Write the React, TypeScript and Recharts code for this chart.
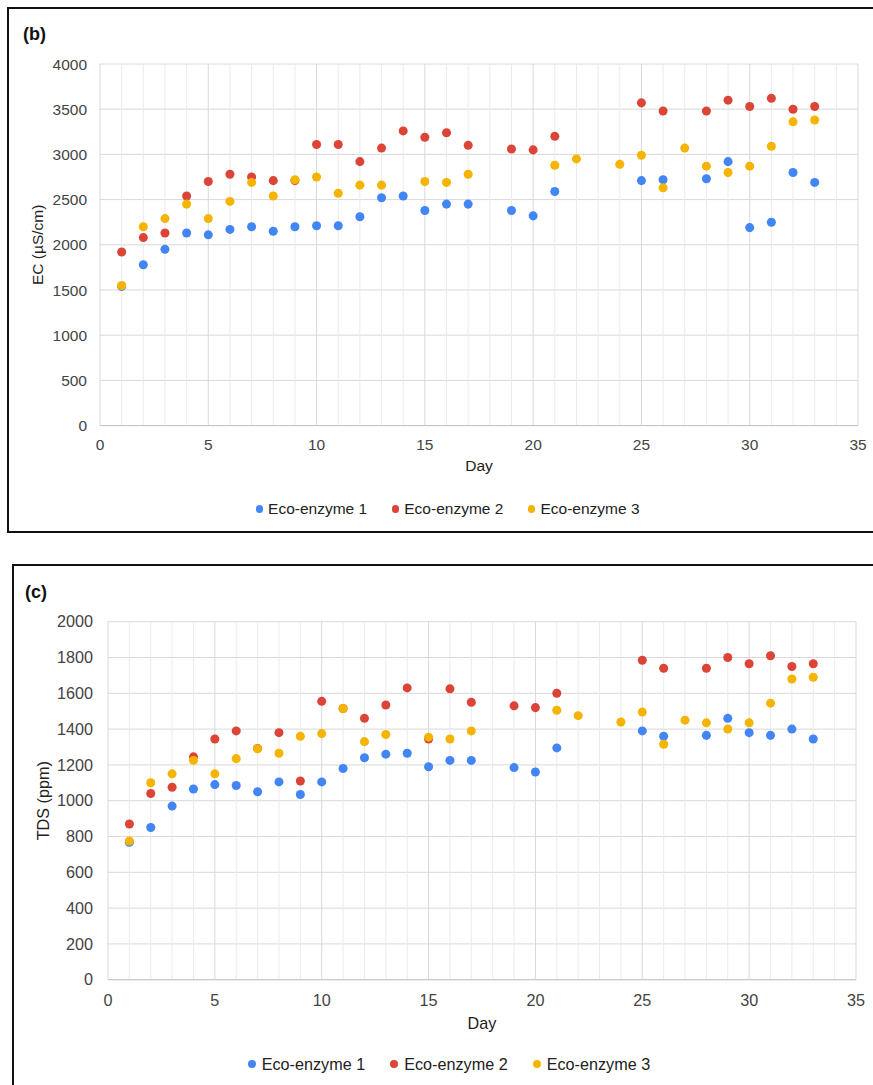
import React from 'react';
import { ScatterChart, Scatter, XAxis, YAxis, CartesianGrid, Legend, ReferenceLine } from 'recharts';

const DAYS = [1, 2, 3, 4, 5, 6, 7, 8, 9, 10, 11, 12, 13, 14, 15, 16, 17, 18, 19, 20, 21, 22, 23, 24, 25, 26, 27, 28, 29, 30, 31, 32, 33];
const SERIES_NAMES = ['Eco-enzyme 1', 'Eco-enzyme 2', 'Eco-enzyme 3'];
const SERIES_COLORS = ['#4285F4', '#DB4437', '#F4B400'];

const EC_1 = [1540, 1780, 1950, 2130, 2110, 2170, 2200, 2150, 2200, 2210, 2210, 2310, 2520, 2540, 2380, 2450, 2450, null, 2380, 2320, 2590, null, null, null, 2710, 2720, null, 2730, 2920, 2190, 2250, 2800, 2690];
const EC_2 = [1920, 2080, 2130, 2540, 2700, 2780, 2750, 2710, 2710, 3110, 3110, 2920, 3070, 3260, 3190, 3240, 3100, null, 3060, 3050, 3200, null, null, null, 3570, 3480, null, 3480, 3600, 3530, 3620, 3500, 3530];
const EC_3 = [1550, 2200, 2290, 2450, 2290, 2480, 2690, 2540, 2720, 2750, 2570, 2660, 2660, null, 2700, 2690, 2780, null, null, null, 2880, 2950, null, 2890, 2990, 2630, 3070, 2870, 2800, 2870, 3090, 3360, 3380];

const TDS_1 = [768, 850, 970, 1065, 1090, 1085, 1050, 1105, 1035, 1105, 1180, 1240, 1260, 1265, 1190, 1225, 1225, null, 1185, 1160, 1295, null, null, null, 1390, 1360, null, 1365, 1460, 1380, 1365, 1400, 1345];
const TDS_2 = [870, 1040, 1075, 1245, 1345, 1390, 1292, 1380, 1110, 1555, 1515, 1460, 1535, 1630, 1345, 1625, 1550, null, 1530, 1520, 1600, null, null, null, 1785, 1740, null, 1740, 1800, 1765, 1810, 1750, 1765];
const TDS_3 = [775, 1100, 1150, 1225, 1150, 1235, 1290, 1265, 1360, 1375, 1515, 1330, 1370, null, 1355, 1345, 1390, null, null, null, 1505, 1475, null, 1440, 1495, 1315, 1450, 1435, 1400, 1435, 1545, 1680, 1690];

const X_TICKS = [0, 5, 10, 15, 20, 25, 30, 35];
const X_MINOR_TICKS = [1, 2, 3, 4, 6, 7, 8, 9, 11, 12, 13, 14, 16, 17, 18, 19, 21, 22, 23, 24, 26, 27, 28, 29, 31, 32, 33, 34];
const EC_TICKS = [0, 500, 1000, 1500, 2000, 2500, 3000, 3500, 4000];
const TDS_TICKS = [0, 200, 400, 600, 800, 1000, 1200, 1400, 1600, 1800, 2000];

function toPoints(values: (number | null)[]) {
  return DAYS.map((d, i) => ({ day: d, value: values[i] })).filter((p) => p.value !== null);
}

type ChartProps = {
  top: number;
  height: number;
  marginTop: number;
  marginRight: number;
  yAxisWidth: number;
  xAxisHeight: number;
  fontSize: number;
  tickMarginX: number;
  tickMarginY: number;
  dayOffset: number;
  yLabel: string;
  yLabelX: number;
  yTicks: number[];
  series: (number | null)[][];
  legendPadLeft: number;
  legendDot: number;
  legendGap: number;
  legendItemWidth: number;
};

function Chart(p: ChartProps) {
  const yMax = p.yTicks[p.yTicks.length - 1];
  const renderLegend = (props: any) => {
    const payload = props.payload || [];
    return (
      <div style={{ height: 20, display: 'flex', alignItems: 'center', paddingLeft: p.legendPadLeft, fontSize: p.fontSize, color: '#222' }}>
        {payload.map((entry: any, i: number) => (
          <div key={i} style={{ width: p.legendItemWidth, flex: 'none', display: 'flex', alignItems: 'center', whiteSpace: 'nowrap' }}>
            <span style={{ display: 'inline-block', width: p.legendDot, height: p.legendDot, borderRadius: '50%', background: entry.color, marginRight: p.legendGap }} />
            <span>{entry.value}</span>
          </div>
        ))}
      </div>
    );
  };
  return (
    <div style={{ position: 'absolute', left: 0, top: p.top }}>
      <ScatterChart width={873} height={p.height} margin={{ top: p.marginTop, right: p.marginRight, bottom: 0, left: 0 }}>
        <CartesianGrid stroke="#d9d9d9" />
        {X_MINOR_TICKS.map((d) => (
          <ReferenceLine key={'m' + d} x={d} stroke="#ebebeb" strokeWidth={1} />
        ))}
        <XAxis
          type="number"
          dataKey="day"
          domain={[0, 35]}
          ticks={X_TICKS}
          interval={0}
          tickLine={false}
          axisLine={{ stroke: '#c4c4c4' }}
          tick={{ fill: '#444', fontSize: p.fontSize }}
          tickMargin={p.tickMarginX}
          height={p.xAxisHeight}
          label={{ value: 'Day', position: 'insideTop', offset: p.dayOffset, fill: '#222', fontSize: p.fontSize }}
        />
        <YAxis
          type="number"
          dataKey="value"
          domain={[0, yMax]}
          ticks={p.yTicks}
          interval={0}
          tickLine={false}
          axisLine={false}
          tick={{ fill: '#444', fontSize: p.fontSize }}
          tickMargin={p.tickMarginY}
          width={p.yAxisWidth}
          label={{ value: p.yLabel, angle: -90, position: 'insideLeft', offset: p.yLabelX, fill: '#222', fontSize: p.fontSize, style: { textAnchor: 'middle' } }}
        />
        {p.series.map((vals, i) => (
          <Scatter key={i} name={SERIES_NAMES[i]} data={toPoints(vals)} fill={SERIES_COLORS[i]} isAnimationActive={false} />
        ))}
        <Legend verticalAlign="bottom" content={renderLegend} wrapperStyle={{ left: 0, width: 873 }} />
      </ScatterChart>
    </div>
  );
}

export default function App() {
  return (
    <div style={{ position: 'absolute', left: 0, top: 0, width: 873, height: 1085, overflow: 'hidden', background: '#fff', fontFamily: '"Liberation Sans", Arial, sans-serif' }}>
      <div style={{ position: 'absolute', left: 7, top: 7, width: 900, height: 526, border: '2px solid #111', boxSizing: 'border-box' }} />
      <div style={{ position: 'absolute', left: 12, top: 564, width: 900, height: 560, border: '2px solid #111', boxSizing: 'border-box' }} />
      <div style={{ position: 'absolute', left: 23, top: 25, fontSize: 18, lineHeight: '18px', fontWeight: 'bold', color: '#111' }}>(b)</div>
      <div style={{ position: 'absolute', left: 25, top: 583, fontSize: 18, lineHeight: '18px', fontWeight: 'bold', color: '#111' }}>(c)</div>
      <Chart
        top={0}
        height={519}
        marginTop={64}
        marginRight={15}
        yAxisWidth={100}
        xAxisHeight={73.4}
        fontSize={15.5}
        tickMarginX={7}
        tickMarginY={7}
        dayOffset={34.8}
        yLabel="EC (µS/cm)"
        yLabelX={37.5}
        yTicks={EC_TICKS}
        series={[EC_1, EC_2, EC_3]}
        legendPadLeft={255.6}
        legendDot={7.5}
        legendGap={5}
        legendItemWidth={136.2}
      />
      <Chart
        top={560}
        height={514}
        marginTop={61.7}
        marginRight={17}
        yAxisWidth={108}
        xAxisHeight={74.3}
        fontSize={16.2}
        tickMarginX={9}
        tickMarginY={9}
        dayOffset={37.5}
        yLabel="TDS (ppm)"
        yLabelX={43}
        yTicks={TDS_TICKS}
        series={[TDS_1, TDS_2, TDS_3]}
        legendPadLeft={247.7}
        legendDot={8}
        legendGap={6}
        legendItemWidth={142.5}
      />
    </div>
  );
}
